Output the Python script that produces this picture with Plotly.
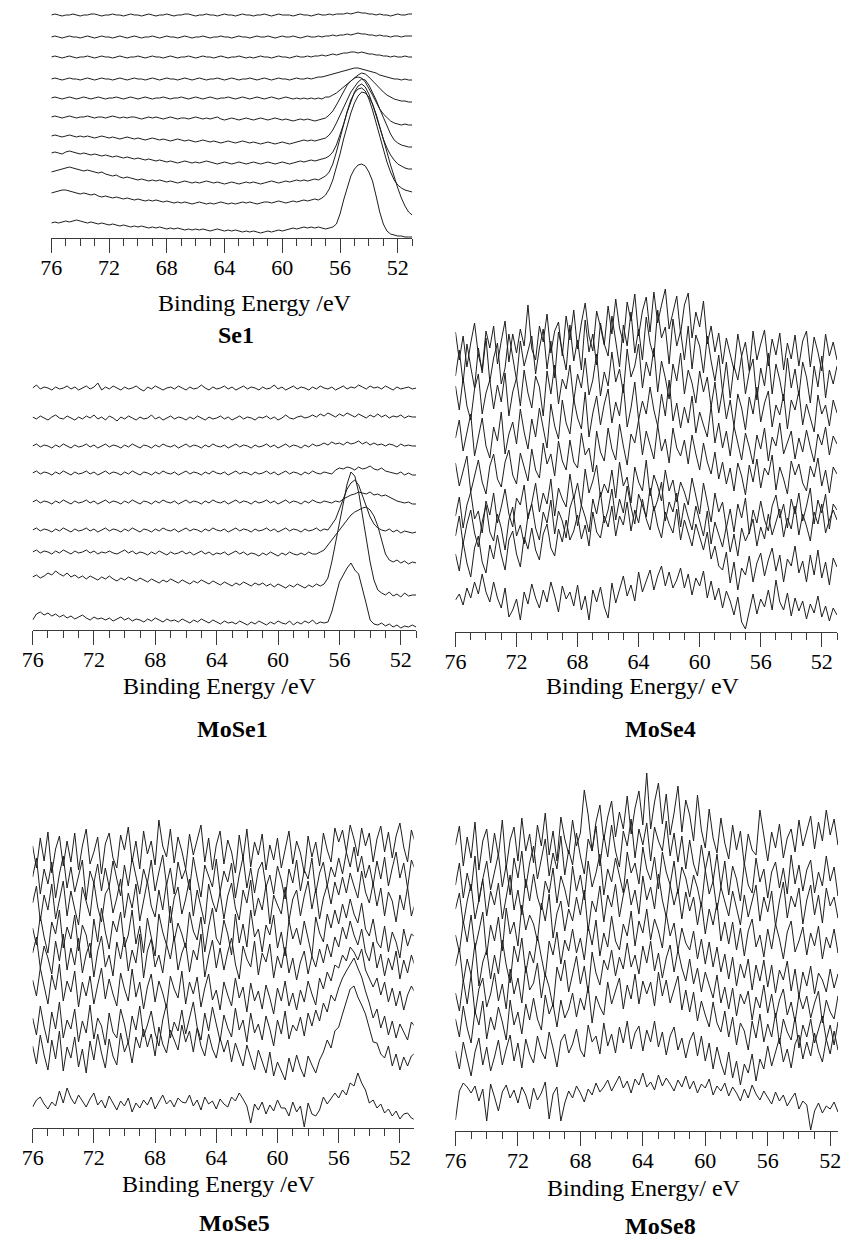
import plotly.graph_objects as go

W, H = 841, 1238

# ---------------- data (intensity in px-units above each panel's axis) ----------------
ENERGY_EV = [round(76 - 0.25 * i, 2) for i in range(101)]
MAJOR_TICKS = [76, 72, 68, 64, 60, 56, 52]
MAJOR_TICK_LABELS = ["76", "72", "68", "64", "60", "56", "52"]

# ---- Se1 ----
SE1_01 = [223,224,223,222,223,223,224,223,222,223, 223,224,224,223,222,223,223,224,223,223,
          222,223,224,223,223,222,223,224,223,222, 223,223,224,223,222,223,223,224,224,223,
          222,223,223,224,223,223,222,223,224,223, 223,222,223,224,223,223,222,223,223,224,
          223,222,223,224,223,223,223,222,223,224, 223,223,222,223,224,223,223,224,223,224,
          224,224,225,224,225,226,225,225,224,224, 223,224,223,223,222,223,224,223,223,224,224]
SE1_02 = [201,202,201,200,201,202,201,201,200,201, 202,201,200,201,202,201,201,200,201,202,
          201,200,201,202,201,200,201,201,202,201, 200,201,202,201,201,200,201,202,201,200,
          201,201,202,201,200,201,201,202,201,201, 200,201,202,201,201,200,201,202,201,201,
          202,201,200,201,202,201,201,202,201,200, 201,202,201,201,202,201,202,202,203,202,
          203,203,204,203,204,205,204,204,203,203, 202,203,202,202,201,202,202,201,202,202,202]
SE1_03 = [181,182,181,180,181,182,181,180,181,181, 182,181,180,181,182,181,181,180,181,182,
          181,180,181,181,182,181,180,181,182,181, 181,180,181,182,181,180,181,181,182,181,
          180,181,182,181,181,180,181,182,181,180, 181,181,182,181,180,181,180,181,182,181,
          181,180,181,182,181,181,180,181,182,181, 181,182,181,182,182,183,182,183,184,183,
          184,185,185,186,186,185,186,185,184,184, 183,183,182,182,181,182,181,181,182,181,181]
SE1_04 = [159,160,159,158,159,160,159,159,158,159, 160,159,158,159,160,159,159,158,159,160,
          159,158,159,160,159,159,158,159,160,159, 158,159,160,159,159,158,159,160,159,158,
          159,160,159,158,159,159,160,159,158,159, 160,159,158,159,159,160,159,158,159,160,
          159,158,159,160,159,159,158,159,160,159, 159,160,159,160,161,161,162,163,164,165,
          166,167,168,169,170,170,169,168,167,166, 165,163,162,161,160,159,159,158,159,158,158]
SE1_05 = [140,141,140,139,140,141,140,139,140,141, 140,139,140,141,140,139,140,140,141,140,
          139,140,141,140,139,140,141,140,139,140, 140,141,140,139,140,140,141,140,139,140,
          141,140,139,140,141,140,139,140,140,141, 140,139,140,141,140,139,140,141,140,139,
          140,141,140,139,140,141,140,139,140,139, 140,139,140,139,140,139,141,141,143,145,
          148,151,154,157,160,163,165,164,161,157, 153,149,146,143,141,139,138,137,137,136,136]
SE1_06 = [121,122,121,120,121,122,121,120,121,121, 122,121,120,121,121,120,121,122,121,120,
          121,120,121,121,120,119,120,121,120,121, 120,119,120,121,120,119,120,120,119,120,
          121,120,119,120,119,120,121,119,118,119, 120,119,118,119,120,119,118,119,120,119,
          118,119,120,119,118,119,118,117,118,119, 118,119,118,117,118,119,120,123,127,133,
          140,147,153,157,160,161,160,156,150,143, 136,129,124,120,117,115,114,113,114,113,113]
SE1_07 = [102,103,102,101,102,103,102,101,102,101, 102,101,100,101,102,101,100,101,100,99,
          100,101,100,99,100,99,98,99,100,99, 98,99,98,97,98,99,98,97,98,97,
          96,97,98,97,96,97,96,95,96,97, 96,95,96,97,96,95,96,95,94,95,
          96,95,94,95,96,95,94,95,96,97, 98,97,98,97,98,99,100,103,108,115,
          123,131,139,146,151,156,159,158,153,146, 138,129,120,111,104,98,95,93,92,91,91]
SE1_08 = [85,86,85,84,86,87,86,85,84,85, 84,83,84,83,82,83,82,81,82,81,
          80,81,80,79,80,79,78,79,78,77, 78,77,76,77,76,75,76,77,76,75,
          76,75,76,77,76,75,74,75,76,75, 74,75,76,75,74,75,76,75,74,75,
          76,75,74,75,76,75,74,75,76,77, 76,77,78,77,78,79,80,82,86,93,
          103,114,126,137,146,152,154,151,144,134, 122,110,99,90,83,78,74,72,70,69,69]
SE1_09 = [66,67,68,69,70,71,70,69,68,67, 68,67,66,65,66,64,63,62,63,61,
          60,61,60,59,58,59,58,57,58,57, 58,57,56,57,56,55,56,57,56,55,
          56,55,56,57,56,55,56,55,54,55, 56,55,54,55,56,55,56,55,54,55,
          56,57,56,55,56,57,56,57,58,57, 58,57,58,59,58,60,62,66,74,86,
          100,114,127,138,145,149,150,147,139,128, 115,101,88,76,66,58,53,50,48,47,46]
SE1_10 = [45,46,47,48,48,47,46,45,44,45, 44,43,44,42,41,42,41,40,41,40,
          39,40,39,38,39,38,37,38,37,38, 37,36,37,36,35,36,35,36,35,34,
          35,36,35,34,35,34,35,36,35,34, 35,34,35,36,35,36,35,34,35,36,
          36,35,36,37,36,35,36,37,36,37, 38,37,38,39,38,40,43,49,58,70,
          84,99,113,125,135,142,146,145,141,134, 124,112,99,86,73,61,50,40,32,26,23]
SE1_11 = [15,16,15,16,17,16,17,18,17,16, 15,16,15,14,15,14,13,14,13,12,
          13,12,11,12,11,12,11,10,11,10, 11,10,9,10,9,10,9,8,9,8,
          9,8,9,8,7,8,9,8,7,8, 7,8,7,6,7,6,7,6,5,6,
          7,6,7,8,7,8,9,10,9,10, 11,10,11,10,11,10,9,10,11,14,
          24,38,51,62,69,73,74,72,66,57, 42,26,14,7,4,3,2,2,1,1,1]

# ---- MoSe1 ----
MOSE1_01 = [242,245,241,243,242,240,243,241,242,244, 241,243,240,242,244,241,243,247,240,243,
            241,244,242,240,243,241,242,244,241,239, 243,241,244,242,240,242,243,241,244,242,
            240,243,241,242,245,242,240,243,241,242, 244,241,243,240,242,244,241,243,242,240,
            243,241,242,245,241,243,240,242,244,241, 243,242,240,243,241,244,242,241,243,240,
            242,244,241,243,242,245,243,241,244,242, 243,241,244,242,240,243,241,242,243,241,242]
MOSE1_02 = [213,211,214,212,210,213,215,212,211,214, 212,210,213,211,214,212,215,211,213,210,
            214,212,209,213,211,214,212,210,213,211, 212,215,211,213,210,212,214,211,213,212,
            210,213,211,214,212,210,213,211,212,214, 211,213,210,212,214,211,213,212,210,213,
            212,214,211,213,210,212,215,212,211,213, 214,212,213,215,213,216,214,217,215,213,
            216,214,217,215,213,216,214,212,215,213, 216,213,215,212,214,213,215,212,214,213,213]
MOSE1_03 = [184,186,183,185,184,182,185,183,186,184, 182,185,183,184,186,183,185,182,184,186,
            183,185,184,182,185,183,186,184,182,185, 184,182,185,183,186,184,183,185,182,184,
            186,183,185,184,182,185,183,186,184,183, 185,182,184,186,183,185,184,182,185,183,
            184,186,183,185,182,184,186,183,185,184, 182,185,183,186,184,185,187,185,188,186,
            187,185,188,186,187,189,186,188,185,187, 185,186,184,186,185,183,186,184,185,184,184]
MOSE1_04 = [157,159,156,158,157,155,158,156,159,157, 155,158,156,157,159,156,158,155,157,159,
            156,158,157,155,158,156,159,157,155,158, 157,155,158,156,159,157,156,158,155,157,
            159,156,158,157,155,158,156,159,157,156, 158,155,157,159,156,158,157,155,158,156,
            157,159,156,158,155,157,159,156,158,157, 155,158,156,159,157,156,158,157,156,160,
            162,161,163,162,160,163,161,162,164,161, 160,162,159,158,157,156,158,155,157,155,155]
MOSE1_05 = [128,130,127,129,128,126,129,127,130,128, 126,129,127,128,130,127,129,126,128,130,
            127,129,128,126,129,127,130,128,126,129, 128,126,129,127,130,128,127,129,126,128,
            130,127,129,128,126,129,127,130,128,127, 129,126,128,130,127,129,128,126,129,127,
            128,130,127,129,126,128,130,127,129,128, 126,129,127,130,128,127,129,128,127,129,
            128,131,133,135,136,138,137,136,138,135, 136,134,135,133,131,129,128,127,128,126,126]
MOSE1_06 = [100,102,99,101,100,98,101,99,102,100, 98,101,99,100,102,99,101,98,100,102,
            99,101,100,98,101,99,102,100,98,101, 100,98,101,99,102,100,99,101,98,100,
            102,99,101,100,98,101,99,102,100,99, 101,98,100,102,99,101,100,98,101,99,
            100,102,99,101,98,100,102,99,101,100, 98,101,99,100,102,99,101,100,105,111,
            121,131,141,147,150,145,135,123,113,106, 102,100,99,101,98,100,97,99,98,97,98]
MOSE1_07 = [78,80,77,79,78,76,79,77,80,78, 76,79,77,78,80,77,79,76,78,77,
            79,77,76,78,80,77,79,76,78,77, 75,78,76,79,77,75,78,76,77,79,
            76,78,75,77,79,76,78,75,77,76, 78,75,77,79,76,78,75,77,76,74,
            77,75,78,76,74,77,75,78,76,75, 77,75,78,76,76,78,80,85,90,95,
            100,106,111,115,118,120,122,123,120,114, 104,90,76,70,68,70,67,69,66,68,67]
MOSE1_08 = [53,55,52,54,57,55,59,56,54,57, 53,55,52,54,51,54,52,50,53,51,
            54,51,49,52,50,53,51,49,52,50, 48,51,49,47,50,48,51,49,47,50,
            48,46,49,47,50,48,46,49,47,45, 48,46,44,47,45,48,46,44,47,45,
            47,44,46,43,46,44,42,45,43,46, 44,42,45,43,46,44,46,52,68,88,
            108,128,146,158,154,138,115,92,68,50, 40,37,35,38,34,36,33,37,34,35,35]
MOSE1_09 = [10,16,18,15,17,14,16,13,15,12, 14,11,13,15,12,10,13,11,12,10,
            12,9,11,13,10,12,9,11,10,8, 11,9,12,10,8,11,9,10,8,11,
            9,7,10,8,11,9,7,10,8,6, 9,7,8,6,9,7,5,8,6,9,
            7,5,8,6,9,7,6,9,5,8, 6,9,7,10,6,8,7,8,18,34,
            48,55,62,67,60,56,42,26,10,6, 5,7,4,6,3,5,2,4,3,5,3]

# ---- MoSe4 ----
MOSE4_01 = [300,272,296,265,289,309,277,262,301,284, 306,268,291,311,270,298,279,303,286,327,
            283,272,306,290,318,279,301,310,276,316, 292,322,283,309,329,296,281,321,305,287,
            326,298,333,304,289,330,311,338,296,321, 335,300,340,309,327,343,303,320,336,298,
            327,339,294,320,305,331,288,306,280,299, 268,294,279,262,298,276,290,261,301,272,
            288,302,266,293,277,299,262,289,273,297, 266,291,301,265,295,280,261,298,276,290,272]
MOSE4_02 = [256,282,249,288,265,244,284,259,294,250, 274,289,248,264,298,276,252,291,266,281,
            296,258,284,303,263,291,254,300,279,262, 307,271,292,262,312,280,298,267,309,288,
            276,316,291,265,307,286,320,279,303,272, 315,289,275,322,294,305,268,313,286,301,
            272,306,263,297,286,259,296,271,251,277, 240,270,234,266,252,276,238,260,273,232,
            264,246,279,238,268,252,231,274,244,263, 236,270,255,229,266,245,276,234,262,248,266]
MOSE4_03 = [246,222,254,226,212,243,258,218,239,252, 223,247,230,259,216,240,254,226,262,239,
            224,256,245,216,261,238,267,228,253,243, 267,231,258,244,274,237,252,278,236,260,
            246,280,250,263,239,283,255,266,288,244, 270,256,284,240,271,254,233,268,251,279,
            238,262,249,229,261,240,255,225,250,219, 242,213,232,206,238,224,202,235,218,245,
            210,229,241,205,227,217,238,203,232,222, 241,207,228,214,200,237,218,227,206,232,219]
MOSE4_04 = [194,212,181,201,218,176,196,214,186,174, 205,191,220,178,198,210,188,223,200,183,
            213,195,224,202,184,228,206,193,232,209, 198,233,214,203,240,195,219,236,207,228,
            243,209,230,216,248,205,224,250,212,231, 218,245,222,206,238,216,252,211,229,204,
            225,209,236,199,220,207,195,226,189,209, 184,201,176,206,190,172,199,185,168,197,
            183,204,171,195,186,209,178,190,201,173, 194,180,202,185,170,198,187,205,177,196,188]
MOSE4_05 = [169,146,161,176,140,157,172,150,138,166, 178,153,145,170,182,157,148,179,166,151,
            183,162,154,189,168,178,156,191,171,162, 192,170,164,199,177,184,160,201,180,171,
            204,183,172,208,186,167,198,189,212,177, 201,186,173,207,181,193,169,204,184,176,
            192,168,197,178,162,189,170,158,180,153, 170,148,164,141,169,156,137,167,150,173,
            144,164,157,177,142,165,153,138,171,157, 168,149,141,166,155,174,146,162,139,165,158]
MOSE4_06 = [116,135,104,127,140,113,121,99,131,117, 139,109,125,143,118,105,134,127,147,113,
            129,149,120,139,128,153,116,144,133,125, 158,133,149,126,163,139,151,167,135,148,
            139,162,134,170,146,155,129,165,150,141, 172,136,157,146,131,162,141,152,130,150,
            140,127,154,135,118,149,129,110,139,120, 130,104,123,100,128,114,134,98,122,109,
            131,112,101,126,137,114,128,104,133,118, 139,111,126,144,108,132,119,138,103,128,122]
MOSE4_07 = [96,116,88,108,122,99,85,110,127,100, 91,118,104,82,112,125,96,107,88,116,
            128,104,92,120,109,132,98,121,111,94, 124,136,106,127,115,100,133,118,140,109,
            122,143,112,133,119,146,125,108,138,127, 115,144,121,132,150,111,130,120,139,105,
            129,115,102,126,111,96,121,88,110,97, 85,106,80,98,76,104,91,100,113,86,
            105,93,118,97,110,123,95,114,103,126, 97,118,106,91,120,108,128,99,112,122,112]
MOSE4_08 = [78,61,90,69,55,84,96,70,59,87, 73,97,77,62,92,101,78,65,95,83,
            104,82,72,98,108,84,76,103,90,112, 92,101,117,93,107,86,120,100,94,116,
            105,126,96,116,107,130,101,122,109,133, 113,102,126,106,94,120,108,99,123,92,
            112,98,86,108,95,82,100,73,86,66, 62,80,49,70,42,64,57,76,50,69,
            79,56,72,84,61,77,50,73,66,86, 59,71,50,77,57,82,54,70,47,74,65]
MOSE4_09 = [32,38,27,44,34,50,38,58,40,30, 50,34,24,44,15,22,33,12,40,28,
            48,34,24,42,30,50,36,20,46,33, 40,26,47,22,36,12,42,30,45,25,
            14,49,29,42,56,36,47,31,60,40, 51,62,42,56,66,46,60,44,52,64,
            44,58,37,54,46,61,34,51,32,44, 24,41,31,17,35,10,3,22,38,18,
            33,25,42,22,52,30,22,39,16,34, 21,31,13,28,19,36,15,26,11,24,17]

# ---- MoSe5 ----
MOSE5_01 = [282,260,290,267,296,255,279,292,262,287, 266,295,258,282,299,264,276,291,254,284,
            295,270,260,293,278,301,266,287,259,297, 274,287,263,308,282,271,299,265,291,277,
            259,294,273,287,303,266,290,258,283,297, 264,288,276,255,293,269,299,261,286,273,
            294,258,283,268,290,260,279,297,264,287, 275,255,292,271,286,262,295,278,266,300,
            286,298,276,303,289,272,300,282,295,266, 289,302,276,296,270,292,305,281,266,298,285]
MOSE5_02 = [251,270,234,259,244,266,230,254,272,240, 261,236,252,268,228,257,245,264,237,260,
            241,267,249,232,263,242,270,251,234,259, 245,268,237,256,273,243,260,234,266,249,
            259,238,271,250,231,263,253,241,269,236, 257,246,265,230,253,271,240,260,235,258,
            266,241,253,234,262,248,229,259,245,268, 237,258,249,270,235,255,266,242,261,251,
            270,254,276,261,281,256,272,250,263,243, 267,249,271,242,260,276,250,265,240,268,258]
MOSE5_03 = [225,242,207,233,218,244,209,229,247,212, 237,219,203,241,226,212,246,221,206,234,
            241,215,230,249,210,235,220,244,207,228, 247,222,211,238,218,246,205,230,241,214,
            229,249,212,238,221,204,244,227,216,236, 209,232,245,220,208,238,225,248,212,230,
            218,243,204,233,223,214,241,207,229,238, 212,232,247,219,239,209,230,243,224,246,
            233,251,235,255,242,230,257,236,225,245, 222,240,212,236,227,206,233,218,241,212,225]
MOSE5_04 = [200,183,212,191,175,206,194,218,180,201, 189,213,177,203,193,170,209,186,220,196,
            179,207,196,216,181,193,218,184,202,175, 210,191,172,214,196,183,222,187,205,194,
            180,216,197,188,211,176,201,220,190,183, 208,194,173,214,185,204,181,218,191,199,
            176,203,193,213,180,196,172,208,189,200, 183,207,191,172,211,195,186,214,200,218,
            204,224,210,229,214,205,225,199,192,209, 186,180,202,176,196,186,170,199,182,194,191]
MOSE5_05 = [175,191,160,182,170,154,187,167,194,158, 180,163,190,155,174,185,151,177,192,161,
            173,152,186,169,191,157,178,165,194,150, 177,189,161,173,155,184,169,192,158,175,
            185,156,178,168,194,151,172,188,160,180, 158,176,190,164,149,182,169,161,187,153,
            175,166,184,150,172,160,181,155,170,148, 166,177,154,172,161,179,165,184,171,191,
            181,201,189,207,193,183,199,176,167,186, 160,174,152,170,158,177,149,168,155,173,161]
MOSE5_06 = [148,132,160,140,124,153,138,164,127,147, 136,157,121,146,132,152,124,143,160,129,
            149,134,122,155,139,127,159,131,146,119, 141,154,126,147,135,120,152,139,130,157,
            124,146,134,151,121,140,154,128,138,118, 146,133,122,150,130,141,116,145,127,137,
            119,143,130,114,140,127,147,122,135,118, 138,126,147,134,123,150,139,156,147,163,
            160,173,167,181,176,168,179,158,150,141, 150,133,146,126,140,122,137,118,133,142,135]
MOSE5_07 = [110,93,122,101,85,116,99,126,90,108, 99,119,86,107,95,123,89,110,102,83,
            115,96,90,119,104,84,112,98,122,91, 103,117,95,82,108,124,90,106,97,118,
            94,110,126,101,88,115,97,121,105,87, 113,100,91,120,98,108,86,115,95,104,
            88,112,99,82,108,94,117,89,103,97, 111,92,115,102,118,107,125,116,133,127,
            140,150,157,164,170,160,151,137,125,110, 119,100,112,93,107,90,104,96,88,106,101]
MOSE5_08 = [82,64,93,73,58,88,69,97,57,81, 70,91,61,79,55,87,68,94,75,60,
            89,72,63,95,76,86,65,91,80,99, 81,94,72,101,84,75,98,87,78,103,
            86,97,76,100,82,72,94,79,70,90, 76,88,66,85,73,62,83,70,58,78,
            67,55,76,52,66,57,48,70,56,73, 60,51,72,63,55,68,76,88,80,97,
            101,114,127,139,142,131,123,114,100,86, 85,74,70,82,62,74,58,71,62,72,75]
MOSE5_09 = [21,28,31,24,19,26,22,37,25,40, 30,24,33,27,21,29,35,23,28,20,
            32,25,18,27,22,30,16,25,20,28, 23,31,19,26,33,24,28,21,30,26,
            25,33,22,28,18,31,24,27,19,29, 24,21,31,27,35,29,22,5,24,18,
            26,14,23,17,28,20,20,12,26,16, 22,1,25,14,12,18,31,24,29,35,
            30,38,33,45,42,55,45,38,25,28, 20,24,15,19,12,17,9,14,15,10,8]

# ---- MoSe8 ----
MOSE8_01 = [286,305,265,294,273,309,261,290,302,268, 298,275,311,263,291,304,270,313,280,297,
            268,306,285,318,276,300,270,314,292,277, 311,285,298,341,316,280,309,326,291,314,
            330,294,319,302,335,297,323,340,306,358, 302,329,348,307,337,296,318,345,299,331,
            316,290,336,301,283,322,293,278,313,288, 272,306,281,300,266,297,281,276,321,293,
            270,299,283,307,273,293,302,279,311,285, 300,315,282,309,290,321,296,312,286,318,304]
MOSE8_02 = [246,268,233,258,240,275,229,252,270,241, 259,277,244,266,236,273,253,280,243,268,
            285,252,272,292,255,278,262,295,256,281, 266,298,275,257,292,280,305,265,296,274,
            306,280,264,300,285,312,273,302,286,308, 270,304,290,280,310,275,298,269,295,262,
            291,267,255,286,261,280,250,277,244,270, 236,265,252,230,268,246,238,273,249,262,
            233,259,269,243,263,237,276,247,266,240, 261,271,238,259,245,275,250,264,235,262,255]
MOSE8_03 = [222,238,207,230,247,212,231,252,215,240, 226,248,212,236,256,221,241,216,252,230,
            257,234,221,250,238,263,228,255,242,224, 265,240,256,231,270,244,258,277,236,262,
            249,273,256,238,279,258,268,247,284,262, 251,274,242,279,259,246,270,237,264,253,
            234,256,243,224,261,237,250,221,244,230, 215,240,223,206,236,214,230,246,210,234,
            219,240,205,230,249,213,235,224,243,207, 231,246,216,236,208,243,225,234,213,239,225]
MOSE8_04 = [196,179,210,189,216,182,200,219,176,206, 190,214,180,223,197,209,185,226,201,216,
            207,190,228,210,237,193,218,230,200,222, 210,234,216,241,200,230,219,245,209,236,
            224,247,214,236,252,226,241,217,255,231, 244,222,257,231,214,246,226,242,212,239,
            220,234,206,229,197,222,206,228,190,209, 187,209,181,203,175,200,212,184,196,174,
            202,182,207,192,172,199,210,179,190,204, 176,198,185,205,172,194,183,202,178,196,190]
MOSE8_05 = [165,183,149,172,156,188,145,169,181,152, 176,157,191,166,148,185,169,193,158,180,
            168,195,174,154,190,176,199,167,191,180, 202,178,193,171,205,186,211,175,198,184,
            215,190,181,207,195,220,185,210,198,222, 191,212,200,183,217,195,208,180,203,188,
            181,200,172,192,167,189,164,184,159,177, 152,174,145,167,153,172,141,166,150,171,
            144,166,138,161,151,170,140,162,134,159, 145,165,137,158,151,139,162,143,157,134,150]
MOSE8_06 = [138,120,151,127,156,117,142,153,124,137, 158,130,147,122,162,137,153,128,165,141,
            148,168,133,157,144,124,164,150,171,139, 157,175,147,165,138,179,158,146,171,161,
            181,155,174,162,188,164,176,157,185,168, 190,160,178,153,173,186,159,181,163,150,
            172,147,163,139,159,145,133,156,128,144, 122,143,115,137,127,140,111,134,123,146,
            118,137,113,131,142,116,129,109,136,122, 135,113,128,140,108,131,119,112,135,117,125]
MOSE8_07 = [112,94,125,103,88,120,106,130,92,114, 101,124,109,91,131,106,119,97,127,111,
            133,112,101,136,117,127,104,131,113,122, 138,114,133,121,145,108,135,124,116,149,
            127,140,153,122,146,132,157,127,150,137, 149,125,159,135,151,128,142,155,121,141,
            119,139,110,130,116,104,129,108,99,120, 94,114,86,108,100,81,110,93,117,89,
            107,94,118,87,112,99,91,114,83,106, 94,112,88,103,115,91,106,86,109,97,100]
MOSE8_08 = [80,62,89,71,55,79,93,66,84,60, 74,91,66,82,96,70,88,63,92,77,
            68,95,80,72,99,83,64,90,97,78, 87,102,81,74,106,89,95,77,108,85,
            97,78,104,88,110,82,98,105,80,101, 89,110,84,99,76,95,104,81,93,73,
            90,99,75,95,70,88,62,84,68,56, 79,53,70,46,67,58,77,50,72,62,
            85,65,78,93,69,82,63,87,96,72, 89,75,98,80,69,92,77,100,81,90,82]
MOSE8_09 = [11,40,48,44,38,45,30,42,10,47, 34,20,39,46,33,41,28,44,36,22,
            43,31,38,49,12,37,44,10,28,40, 33,45,38,29,42,36,48,39,44,51,
            40,47,55,43,50,38,52,46,58,44, 49,41,56,45,53,47,40,51,44,55,
            42,50,38,47,43,52,36,45,40,48, 35,44,38,30,42,33,46,37,31,40,
            34,27,39,30,36,25,32,38,22,30, 26,1,20,28,18,25,22,29,19,26,24]

SE1 = [SE1_01, SE1_02, SE1_03, SE1_04, SE1_05, SE1_06, SE1_07, SE1_08, SE1_09, SE1_10, SE1_11]
MOSE1 = [MOSE1_01, MOSE1_02, MOSE1_03, MOSE1_04, MOSE1_05, MOSE1_06, MOSE1_07, MOSE1_08, MOSE1_09]
MOSE4 = [MOSE4_01, MOSE4_02, MOSE4_03, MOSE4_04, MOSE4_05, MOSE4_06, MOSE4_07, MOSE4_08, MOSE4_09]
MOSE5 = [MOSE5_01, MOSE5_02, MOSE5_03, MOSE5_04, MOSE5_05, MOSE5_06, MOSE5_07, MOSE5_08, MOSE5_09]
MOSE8 = [MOSE8_01, MOSE8_02, MOSE8_03, MOSE8_04, MOSE8_05, MOSE8_06, MOSE8_07, MOSE8_08, MOSE8_09]

for grp in (SE1, MOSE1, MOSE4, MOSE5, MOSE8):
    for k, t in enumerate(grp):
        assert len(t) == len(ENERGY_EV), (k, len(t))

# ---------------- layout (pixel geometry) ----------------
PANELS = [
    dict(data=SE1, x0=41, x1=408, axis_y=238, top_y=0, xr=[76, 51],
         title="Binding Energy /eV", tpos=(248, 303), label="Se1", lpos=(229, 335)),
    dict(data=MOSE1, x0=22, x1=412, axis_y=630, top_y=360, xr=[76, 51],
         title="Binding Energy /eV", tpos=(213, 686), label="MoSe1", lpos=(225, 729)),
    dict(data=MOSE4, x0=452, x1=840, axis_y=632, top_y=280, xr=[76, 51],
         title="Binding Energy/ eV", tpos=(643, 686), label="MoSe4", lpos=(661, 729)),
    dict(data=MOSE5, x0=22, x1=409.5, axis_y=1128, top_y=810, xr=[76, 51.1],
         title="Binding Energy /eV", tpos=(212, 1184), label="MoSe5", lpos=(227, 1223)),
    dict(data=MOSE8, x0=452, x1=841, axis_y=1131, top_y=760, xr=[76, 51.5],
         title="Binding Energy/ eV", tpos=(644, 1188), label="MoSe8", lpos=(661, 1226)),
]

FONT = "Liberation Serif, Times New Roman, serif"
LINE_COLOR = "#1e1e1e"
AXIS_COLOR = "#3a3a3a"

fig = go.Figure()
layout = dict(width=W, height=H, margin=dict(l=0, r=0, t=0, b=0),
              paper_bgcolor="white", plot_bgcolor="rgba(0,0,0,0)", showlegend=False)
annotations = []

for n, p in enumerate(PANELS, start=1):
    xa, ya = f"x{n}", f"y{n}"
    span = p["axis_y"] - p["top_y"]
    for trace in p["data"]:
        fig.add_trace(go.Scatter(x=ENERGY_EV, y=trace, mode="lines",
                                 line=dict(color=LINE_COLOR, width=1),
                                 xaxis=xa, yaxis=ya, hoverinfo="skip", showlegend=False))
    layout[f"xaxis{n}"] = dict(
        domain=[p["x0"] / W, min(p["x1"] / W, 1.0)], range=p["xr"], anchor=ya,
        showline=True, linecolor=AXIS_COLOR, linewidth=1, mirror=False,
        showgrid=False, zeroline=False,
        tickmode="array", tickvals=MAJOR_TICKS, ticktext=MAJOR_TICK_LABELS,
        ticks="outside", ticklen=14, tickwidth=1, tickcolor=AXIS_COLOR,
        ticklabelstandoff=-4, ticklabeloverflow="allow",
        minor=dict(tickmode="linear", tick0=52, dtick=1, ticks="outside",
                   ticklen=7, tickwidth=1, tickcolor=AXIS_COLOR, showgrid=False),
        tickfont=dict(family=FONT, size=22, color="black"),
        fixedrange=True,
    )
    layout[f"yaxis{n}"] = dict(
        domain=[(H - p["axis_y"]) / H, (H - p["top_y"]) / H], range=[0, span],
        anchor=xa, visible=False, fixedrange=True,
    )
    annotations.append(dict(text=p["title"], x=p["tpos"][0] / W, y=1 - p["tpos"][1] / H,
                            xref="paper", yref="paper", xanchor="center", yanchor="middle",
                            showarrow=False, font=dict(family=FONT, size=24, color="black")))
    annotations.append(dict(text=f"<b>{p['label']}</b>", x=p["lpos"][0] / W, y=1 - p["lpos"][1] / H,
                            xref="paper", yref="paper", xanchor="center", yanchor="middle",
                            showarrow=False, font=dict(family=FONT, size=24, color="black")))

layout["annotations"] = annotations
fig.update_layout(**layout)
fig.write_html("out.html")
